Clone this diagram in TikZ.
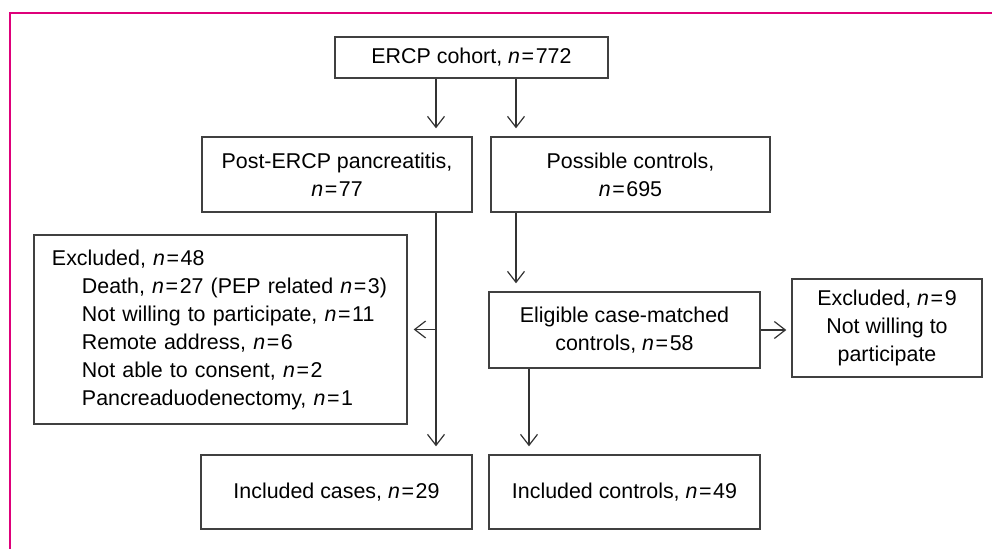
\documentclass[tikz,border=0pt]{standalone}
\usepackage{fontspec}
\setmainfont{Liberation Sans}
\usepackage{tikz}
\usetikzlibrary{arrows.meta}

\newcommand{\ncount}[1]{\textit{n}\kern0.8pt=\kern0.8pt#1}

\begin{document}
\begin{tikzpicture}[x = 0.5pt, y = -0.5pt,
    box/.style = {draw = black!75, line width = 0.7pt, inner sep = 0pt,
      font = \fontsize{10.7}{14}\selectfont, align = center},
    flow/.style = {draw = black!80, line width = 0.6pt,
      -{Straight Barb[length = 5.5pt, width = 8.5pt, line width = 0.6pt]}},
    frame/.style = {draw = {rgb,255:red,222;green,0;blue,122}, line width = 1pt}]
        \useasboundingbox (0, 0) rectangle (992, 549);
        \draw [frame] (992, 13) -- (10, 13) -- (10, 549);

        \node [box, minimum width = 136.5pt, minimum height = 20.5pt] (ercp) at (471.5, 57.5) {ERCP cohort, \ncount{772}};
        \node [box, minimum width = 135pt, minimum height = 37.5pt] (pep) at (337, 174.5) {Post-ERCP pancreatitis,\\ \ncount{77}};
        \node [box, minimum width = 139.5pt, minimum height = 37.5pt] (possible) at (630.5, 174.5) {Possible controls,\\ \ncount{695}};
        \node [box, minimum width = 186.5pt, minimum height = 94.5pt, align = left, text width = 168.5pt] (excluded) at (220.5, 329.5) {%
          Excluded, \ncount{48}\\
          \hspace*{15pt}Death, \ncount{27} (PEP related \ncount{3})\\
          \hspace*{15pt}Not willing to participate, \ncount{11}\\
          \hspace*{15pt}Remote address, \ncount{6}\\
          \hspace*{15pt}Not able to consent, \ncount{2}\\
          \hspace*{15pt}Pancreaduodenectomy, \ncount{1}};
        \node [box, minimum width = 135.5pt, minimum height = 38pt] (eligible) at (624.5, 330) {Eligible case-matched\\ controls, \ncount{58}};
        \node [box, minimum width = 95pt, minimum height = 49pt] (exclnine) at (887, 328) {Excluded, \ncount{9}\\ Not willing to\\ participate};
        \node [box, minimum width = 135.5pt, minimum height = 37pt] (cases) at (336.5, 492) {Included cases, \ncount{29}};
        \node [box, minimum width = 135.5pt, minimum height = 37pt] (controls) at (624.5, 492) {Included controls, \ncount{49}};

        \coordinate (lefttrunk) at (436, 0);
        \coordinate (midtrunk) at (516, 0);
        \coordinate (righttrunk) at (529, 0);

        \foreach \from/\to/\at in {ercp/pep/lefttrunk, ercp/possible/midtrunk, pep/cases/lefttrunk,
                                   possible/eligible/midtrunk, eligible/controls/righttrunk} {
          \draw [flow, shorten > = 4pt] (\from.south -| \at) -- (\to.north -| \at);
        }

        \draw [flow, shorten > = 3pt] (excluded.east -| lefttrunk) -- (excluded.east);
        \draw [flow, shorten > = 2.5pt] (eligible.east) -- (exclnine.west |- eligible.east);
\end{tikzpicture}
\end{document}
